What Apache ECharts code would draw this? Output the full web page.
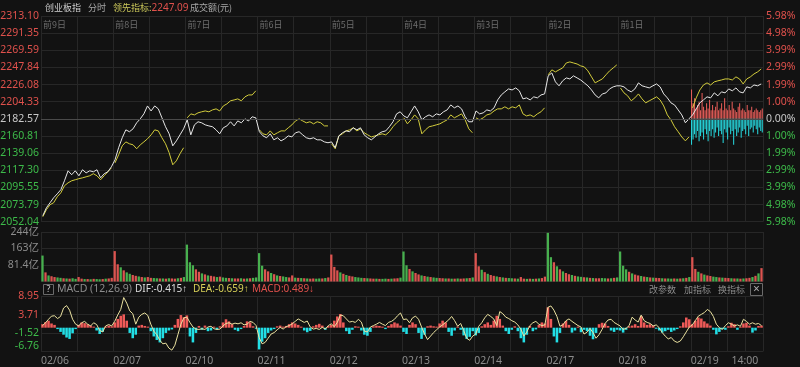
<!DOCTYPE html>
<html><head><meta charset="utf-8">
<script src="https://cdn.jsdelivr.net/npm/echarts@6/dist/echarts.min.js"></script>
<style>html,body{margin:0;padding:0;background:#121212;}#c{width:800px;height:367px;}</style>
</head><body><div id="c"></div>
<script>
// ---------- data ----------
const dayLabels = ['前9日','前8日','前7日','前6日','前5日','前4日','前3日','前2日','前1日'];
const dateLabels = ['02/06','02/07','02/10','02/11','02/12','02/13','02/14','02/17','02/18','02/19'];
const timeLabel = '14:00';
const priceTicks = ['2052.04','2073.79','2095.55','2117.30','2139.06','2160.81','2182.57','2204.33','2226.08','2247.84','2269.59','2291.35','2313.10'];
const pctTicks = ['5.98%','4.98%','3.99%','2.99%','1.99%','1.00%','0.00%','1.00%','1.99%','2.99%','3.99%','4.98%','5.98%'];
const volTicks = ['','81.4亿','163亿','244亿'];
const macdTicks = ['-6.76','-1.52','3.71','8.95'];
const pctRange = 5.98, volMax = 244.2, macdMin = -6.76, macdMax = 8.95;

// 创业板指 change % (20 points per day)
const indexPct = [
 -5.63,-5.17,-4.88,-4.59,-4.36,-4.12,-3.60,-3.02,-3.25,-3.02,-3.31,-2.96,-3.14,-3.02,-3.08,-2.96,-3.43,-3.19,-3.08,-2.79,
 -2.38,-1.68,-1.10,-0.64,-0.75,-0.58,-0.23,0.00,0.29,0.75,0.46,0.75,0.58,0.06,-0.46,-0.87,-1.57,-1.28,-0.93,-0.58,
 -0.06,-0.93,-0.35,-0.17,-0.23,-0.35,-0.41,-0.46,-0.64,-0.87,-0.52,-0.41,-0.17,-0.41,-0.12,-0.23,0.00,-0.12,0.12,0.06,
 -0.75,-0.99,-1.10,-0.87,-1.22,-1.10,-1.28,-1.16,-0.99,-1.05,-0.81,-0.75,-0.93,-1.10,-1.16,-1.10,-1.22,-1.22,-1.34,-1.39,
 -1.34,-1.68,-0.99,-0.81,-0.70,-0.75,-0.52,-0.64,-0.52,-0.93,-1.10,-1.22,-1.05,-0.87,-0.75,-0.70,-0.46,-0.17,0.29,0.41,
 0.17,0.06,0.41,0.75,0.41,-0.06,0.12,0.23,0.12,0.29,0.23,0.41,0.52,0.81,0.64,0.75,0.58,0.12,-0.17,-0.17,
 0.46,0.29,0.35,0.52,0.46,0.64,1.10,1.39,1.57,1.74,1.68,1.80,1.63,1.16,1.22,1.10,1.28,1.22,1.39,1.45,
 2.50,2.67,2.15,1.92,2.21,2.38,2.32,2.50,2.38,2.26,2.09,1.92,1.68,1.39,1.22,1.45,1.51,1.74,1.86,1.92,
 1.92,1.86,1.68,1.57,1.74,2.09,1.92,1.86,1.80,1.92,2.03,1.86,1.45,1.22,0.93,0.81,0.52,0.23,-0.23,0.00,
 0.23,0.58,0.93,1.10,1.28,1.22,1.51,1.34,1.57,1.51,1.74,1.63,1.80,1.57,1.51,1.86,1.80,1.97,1.92,2.03
];
// 领先指标 change % (20 points per day)
const leadPct = [
 -5.69,-5.28,-4.99,-4.88,-4.53,-4.30,-3.89,-3.72,-3.60,-3.54,-3.48,-3.43,-3.37,-3.31,-3.19,-3.31,-3.54,-3.31,-3.08,-2.85,
 -2.56,-2.09,-1.57,-1.34,-1.45,-1.51,-1.74,-1.51,-1.34,-1.16,-0.93,-0.64,-0.70,-1.10,-1.45,-1.97,-2.67,-2.44,-2.03,-1.68,
 0.06,0.29,0.23,0.35,0.41,0.46,0.41,0.52,0.58,0.46,0.75,0.87,1.05,1.10,1.16,1.05,1.28,1.39,1.39,1.63,
 -0.64,-0.87,-0.93,-0.70,-0.93,-0.81,-0.70,-0.70,-0.52,-0.35,-0.12,0.00,-0.12,-0.23,-0.17,-0.29,-0.17,-0.23,-0.41,-0.41,
 -1.45,-1.74,-0.99,-0.87,-0.70,-0.64,-0.52,-0.70,-0.58,-0.81,-0.93,-1.05,-0.99,-0.93,-0.87,-0.93,-0.75,-0.46,-0.23,-0.06,
 0.06,-0.29,-0.06,0.23,0.00,-0.87,-0.64,-0.46,-0.41,-0.35,-0.29,-0.17,-0.06,0.23,0.06,0.17,0.29,-0.06,-0.58,-0.81,
 0.06,-0.06,0.06,0.23,0.29,0.46,0.58,0.58,0.70,0.58,0.70,0.64,0.81,0.29,0.17,0.23,0.12,0.29,0.41,0.64,
 2.56,2.85,2.73,2.85,2.96,3.25,3.31,3.25,3.19,3.08,3.02,2.79,2.44,2.09,2.21,2.32,2.56,2.79,2.96,3.14,
 1.80,1.51,1.34,1.05,1.22,1.45,1.16,0.93,1.05,1.16,1.28,1.10,0.75,0.23,-0.06,-0.46,-0.75,-1.05,-1.28,-1.05,
 0.64,1.22,1.68,1.97,2.09,1.97,2.15,2.21,2.26,2.32,2.32,2.26,2.44,2.32,2.03,2.32,2.44,2.61,2.73,2.90
];
// today's indicator bars (48 per day)
const todayUp = [1.7,0.9,1.2,0.6,0.8,1.0,0.5,1.5,0.7,0.5,0.9,0.6,1.1,0.5,0.8,0.5,0.7,1.0,0.5,0.6,0.9,0.5,1.2,0.6,0.5,0.8,0.5,1.0,0.6,0.5,0.4,0.7,0.9,0.5,0.6,0.5,0.4,0.8,0.5,0.5,0.7,0.4,0.5,0.6,0.5,0.4,0.5,0.6];
const todayDown = [-1.5,-1.2,-0.9,-1.1,-0.7,-1.3,-1.0,-0.8,-1.2,-0.6,-0.9,-1.3,-0.7,-1.0,-0.6,-1.1,-0.8,-0.5,-1.0,-0.7,-0.9,-1.4,-0.6,-0.8,-1.2,-0.5,-0.9,-0.7,-1.5,-0.6,-1.0,-0.8,-0.5,-1.1,-0.7,-0.6,-0.9,-0.4,-1.0,-0.6,-0.5,-0.8,-0.4,-0.6,-0.9,-0.5,-0.7,-0.8];
// turnover (亿), 24 per day
const volume = [
 128,45,30,26,22,20,18,16,15,14,16,13,22,14,12,12,11,13,12,11,12,14,15,18,
 150,85,70,55,45,38,32,28,25,22,20,22,18,17,16,15,15,14,16,15,14,16,18,22,
 182,95,80,60,48,40,35,30,28,25,22,24,20,18,17,16,15,15,16,14,15,16,18,20,
 140,78,60,50,42,36,30,27,25,22,20,30,19,18,17,16,15,14,15,14,15,15,17,20,
 133,72,55,45,38,32,28,25,22,20,18,17,16,15,14,14,13,13,14,13,14,15,16,19,
 148,80,62,50,42,35,30,27,24,22,20,18,17,16,15,15,14,14,15,14,15,16,17,20,
 140,75,58,46,38,32,28,25,22,20,18,17,16,15,14,22,14,13,14,13,14,15,17,24,
 240,120,95,75,60,50,42,36,32,28,25,23,21,20,18,17,16,16,17,16,15,16,18,20,
 148,78,60,48,40,34,30,27,24,22,20,19,18,17,16,15,15,14,15,14,15,16,18,22,
 120,62,48,40,34,30,27,24,22,20,19,18,17,16,15,15,14,15,16,18,22,28,40,66
];
const volDir = [
 'grgrrggrgrggrrgrgrggrgrr','rrgrggrrgrgrrggrgrgrrgrg','gggrrgrgrrgrggrgrrgrgrgg','ggrrgrgrggrrgrgrgrrggrgr','rrrgrgrrgggrgrrgrggrgrrg',
 'ggrgrrgrgrggrrgrgrgrrgrg','rrgrgrrgrgrggrgrrgrgrgrr','ggrgrgrrgrggrgrgrrggrgrg','gggrgrrgrgrgrrgrggrgrgrg','rrgrgrrggrgrrgrgrgrrgrgr'
];
// MACD line and histogram, 24 per day
const macdLine = [
 0.6,1.4,2.4,3.3,3.4,2.6,3.2,5.6,6.3,5.0,2.4,1.0,0.5,1.4,1.8,1.0,0.5,1.4,0.9,-0.8,-1.2,0.5,0.9,0.5,
 1.8,3.6,5.2,8.6,7.0,4.8,4.0,1.0,3.0,3.8,4.2,3.5,1.0,-1.0,-2.0,-3.6,-4.6,-4.4,-5.8,-6.4,-5.0,-2.0,1.0,2.8,
 3.0,1.5,0.2,-0.4,-0.5,-0.3,-0.5,0.2,0.4,-0.3,-0.5,-0.4,0.5,1.2,1.4,1.0,1.3,1.1,1.4,0.8,1.0,1.8,1.5,0.6,
 -2.8,-4.6,-4.2,-3.0,-1.8,-1.4,-0.6,0.1,-0.4,0.3,0.6,1.1,1.8,2.5,2.0,1.5,1.9,0.2,-0.4,-0.2,-0.5,0.1,-0.4,0.6,
 1.1,0.3,1.5,3.6,3.4,2.5,1.6,1.8,1.5,2.4,1.6,-1.0,-1.2,0.2,0.6,1.0,1.5,1.0,0.6,1.5,1.8,2.4,3.4,4.2,
 2.3,2.5,1.4,2.8,3.3,2.4,0.2,-1.8,-3.4,-2.4,-1.4,-0.6,0.2,0.8,1.5,2.2,3.2,2.0,0.4,1.2,-0.8,-3.0,-3.6,-2.4,
 -1.8,0.4,1.4,2.8,3.8,3.2,2.5,0.6,4.6,4.0,3.0,2.6,2.0,1.6,0.8,-0.4,-2.4,-1.2,0.6,1.4,1.8,1.0,0.6,0.8,
 5.8,6.2,5.0,3.2,0.4,0.8,2.0,2.5,1.8,1.2,0.6,0.2,-1.8,-1.3,-0.2,-1.4,-3.0,-2.0,-0.5,1.2,2.2,2.4,1.5,1.0,
 0.5,-0.5,-0.2,0.6,3.0,2.2,1.6,3.6,2.0,1.5,1.2,0.5,0.8,0.0,-1.4,-2.4,-3.2,-2.8,-3.8,-4.2,-3.8,-2.6,-1.2,0.2,
 0.8,2.0,3.3,3.8,4.3,5.2,4.6,3.2,1.0,0.0,-0.5,0.6,1.4,1.0,0.5,0.8,0.4,2.4,1.8,1.0,1.4,1.0,1.2,0.6
];
const macdHist = [
 1.0,1.6,2.0,1.2,0.8,-0.4,-1.2,-2.0,-2.8,-3.2,-1.6,-0.4,0.8,1.5,1.3,1.0,0.6,0.3,-0.8,-1.8,-1.2,0.3,0.6,0.4,
 1.5,2.5,3.4,3.8,2.0,-1.5,-3.0,-2.0,0.6,0.8,0.5,0.3,-1.0,-2.5,-3.5,-4.2,-3.0,-1.5,-0.8,-0.5,0.8,2.5,3.6,3.0,
 3.5,-2.5,-4.2,-1.5,0.5,-0.6,0.6,-1.0,-0.8,0.3,-0.5,0.4,1.5,2.4,1.8,1.0,-0.6,-1.0,-0.4,0.5,1.8,1.5,0.4,-0.3,
 -6.2,-4.0,-3.0,-1.5,-0.8,-0.4,0.4,0.6,0.3,0.5,1.0,1.5,1.2,0.8,0.3,-0.8,-1.3,-0.9,0.4,0.8,1.1,0.6,-0.6,0.5,
 0.8,2.0,3.2,3.9,1.5,-1.0,-1.8,-0.6,0.4,0.3,-0.8,-2.0,-2.3,-1.2,0.4,0.6,0.5,0.3,-0.4,0.5,1.0,1.5,1.2,0.6,
 -1.2,-1.8,0.8,1.5,1.0,-1.5,-3.2,-2.0,0.4,0.6,0.4,0.3,1.2,2.0,1.5,-1.2,-2.3,-0.8,0.3,-0.6,-2.2,-3.2,-2.6,-1.0,
 -2.2,-1.5,0.4,1.0,1.5,0.8,2.0,3.4,2.5,0.6,-1.0,-1.8,-0.6,0.4,-1.0,-3.0,-4.2,-2.0,0.5,-1.0,-0.5,0.8,1.5,1.2,
 5.8,2.5,-2.5,-4.2,-1.5,1.2,1.9,0.8,-1.4,-0.8,0.3,-1.3,-0.6,-1.0,-2.3,-3.3,-1.5,1.0,1.4,1.2,0.5,-0.8,-1.2,-0.6,
 -0.8,-1.4,-0.6,0.4,0.6,1.0,0.5,3.3,1.5,0.8,1.0,0.6,-0.3,-0.8,-1.4,-1.0,-0.6,-1.2,-0.8,-0.4,0.4,1.5,2.9,2.4,
 1.0,2.0,2.9,2.6,1.8,1.2,0.6,-0.6,-1.9,-1.2,-0.4,-0.6,0.4,1.4,1.0,-0.6,0.3,1.2,1.4,0.6,-1.4,-0.8,0.5,0.6
];

// ---------- style ----------
const FONT = "'Noto Sans CJK SC','Noto Sans',sans-serif";
const LATIN = "'Noto Sans','Noto Sans CJK SC',sans-serif";
const ARROW = "'Liberation Sans','DejaVu Sans',sans-serif";
const RED = '#e0514c', GREEN = '#3dbb4a', GREY = '#8c8c8c';
const GRID = '#272727';
const WHITE_LINE = '#e6e6e6', YEL_LINE = '#d2cc3c';
const DAYS = 10, PPD = 20, VPD = 24, TPD = 48;

const idx = n => Array.from({length:n}, (_, i) => String(i));
const quarterCats = idx(DAYS*4+1);
const quarterSplit = i => (i % 2 === 0) || i >= (DAYS-1)*4;

function hiddenX(grid, n){ return {type:'category', gridIndex:grid, data:idx(n), show:false, boundaryGap:true, position:'bottom', axisLine:{onZero:false}}; }
function lineX(grid){ return {type:'category', gridIndex:grid, data:quarterCats, boundaryGap:false, position:'bottom',
  axisLine:{show:false,onZero:false}, axisTick:{show:false}, axisLabel:{show:false},
  splitLine:{show:true, interval:(i)=>quarterSplit(i), lineStyle:{color:GRID,width:1}}}; }
function hiddenY(grid, min, max){ return {type:'value', gridIndex:grid, min, max, show:false, splitLine:{show:false}}; }
function labelY(grid, data, pos, colorFn){ return {type:'category', gridIndex:grid, data, position:pos, boundaryGap:false,
  axisLine:{show:false,onZero:false}, axisTick:{show:false},
  axisLabel:{interval:0, margin: pos==='left'?2:3, fontSize:10.5, fontFamily:LATIN, color:colorFn, align: pos==='left'?'right':'left'},
  splitLine:{show:true, interval:0, lineStyle:{color:GRID,width:1}}}; }

const gridBase = {left:41, right:37, outerBoundsMode:'none', containLabel:false, show:false};
const grid = [
  Object.assign({}, gridBase, {top:16, height:205.7}),
  Object.assign({}, gridBase, {top:232, height:49.5}),
  Object.assign({}, gridBase, {top:296.3, height:55.1})
];

const xAxis = [
  hiddenX(0, DAYS*PPD),            //0
  lineX(0),                        //1
  {type:'category', gridIndex:0, position:'top', data: dayLabels.concat(['','']), boundaryGap:false,
    axisLine:{show:false,onZero:false}, axisTick:{show:false}, splitLine:{show:false},
    axisLabel:{inside:true, interval:0, margin:4, align:'left', padding:[0,0,0,2], fontSize:9, fontFamily:FONT, color:'#6c6c6c'}}, //2
  hiddenX(0, DAYS*TPD),            //3
  hiddenX(1, DAYS*VPD),            //4
  lineX(1),                        //5
  hiddenX(2, DAYS*VPD),            //6
  lineX(2),                        //7
  {type:'category', gridIndex:2, position:'bottom', data: dateLabels.concat(['']), boundaryGap:false,
    axisLine:{show:false,onZero:false}, axisTick:{show:false}, splitLine:{show:false},
    axisLabel:{interval:0, margin:4, align:'left', fontSize:10.5, fontFamily:LATIN, color:GREY}}, //8
  {type:'category', gridIndex:2, position:'bottom', data: quarterCats.map((c,i)=> i===DAYS*4-1 ? timeLabel : ''), boundaryGap:false,
    axisLine:{show:false,onZero:false}, axisTick:{show:false}, splitLine:{show:false},
    axisLabel:{interval:0, margin:4, align:'center', fontSize:10.5, fontFamily:LATIN, color:GREY}} //9
];

const midIdx = (priceTicks.length-1)/2;
const signColor = (v, i) => i < midIdx ? GREEN : (i === midIdx ? '#c8c8c8' : RED);
const macdAxis = labelY(2, macdTicks.map((t,i)=> i===0 ? {value:t, textStyle:{verticalAlign:'bottom'}} : t), 'left',
  (v) => parseFloat(v) < 0 ? GREEN : RED);
const yAxis = [
  hiddenY(0, -pctRange, pctRange),                 //0
  labelY(0, priceTicks, 'left', signColor),        //1
  labelY(0, pctTicks, 'right', signColor),         //2
  hiddenY(1, 0, volMax),                           //3
  labelY(1, volTicks, 'left', () => GREY),         //4
  hiddenY(2, macdMin, macdMax),                    //5
  macdAxis                                         //6
];

const series = [];
// today's indicator bars
const upData = new Array(DAYS*TPD).fill(null), dnData = new Array(DAYS*TPD).fill(null);
todayUp.forEach((v,i)=> upData[(DAYS-1)*TPD+i] = v);
todayDown.forEach((v,i)=> dnData[(DAYS-1)*TPD+i] = v);
series.push({type:'bar', xAxisIndex:3, yAxisIndex:0, data:upData, barWidth:1, itemStyle:{color:'#ee5f5b'}, silent:true, z:1});
series.push({type:'bar', xAxisIndex:3, yAxisIndex:0, data:dnData, barWidth:1, barGap:'-100%', itemStyle:{color:'#27dde3'}, silent:true, z:1});
// leading indicator, one segment per day
for (let d=0; d<DAYS; d++){
  const arr = new Array(DAYS*PPD).fill(null);
  for (let k=0;k<PPD;k++) arr[d*PPD+k] = leadPct[d*PPD+k];
  series.push({type:'line', xAxisIndex:0, yAxisIndex:0, data:arr, showSymbol:false, connectNulls:false,
    lineStyle:{color:YEL_LINE,width:1}, silent:true, z:3});
}
// index line
series.push({type:'line', xAxisIndex:0, yAxisIndex:0, data:indexPct, showSymbol:false,
  lineStyle:{color:WHITE_LINE,width:1}, silent:true, z:4,
  markLine:{silent:true, symbol:['none','none'], label:{show:false}, lineStyle:{color:'#4a4a4a', width:1, type:'solid'}, data:[{yAxis:0}]}});
// volume
series.push({type:'bar', xAxisIndex:4, yAxisIndex:3, barCategoryGap:'25%', silent:true,
  data: volume.map((v,i)=>{ const d=Math.floor(i/VPD), k=i%VPD; const up=(volDir[d][k]||'r')==='r';
    return {value:v, itemStyle:{color: up ? '#dc5450' : '#47b04e'}}; })});
// MACD histogram and line
series.push({type:'bar', xAxisIndex:6, yAxisIndex:5, barCategoryGap:'15%', silent:true,
  data: macdHist.map(v=>({value:v, itemStyle:{color: v>=0 ? '#ef5a58' : '#22dfe6'}}))});
series.push({type:'line', xAxisIndex:6, yAxisIndex:5, data:macdLine, showSymbol:false, silent:true, z:4,
  lineStyle:{color:'#ebe2a0', width:1}});

function txt(x, y, s, color, size, align, family){
  const a = align || 'left';
  return {type:'text', x, y, silent:true, z:10,
    style:{text:s, fill:color, font: size+'px '+(family||FONT), align:a, verticalAlign:'middle', textAlign:a, textVerticalAlign:'middle'}};
}
function richTxt(x, y, s, rich){
  return {type:'text', x, y, silent:true, z:10,
    style:{text:s, rich, align:'left', verticalAlign:'middle', textAlign:'left', textVerticalAlign:'middle', font:'10px '+LATIN}};
}
const graphic = [
  txt(45, 8, '创业板指', '#cfcfcf', 9),
  txt(88, 8, '分时', '#a8a8a8', 9),
  richTxt(113, 8, '{a|领先指标:}{b|2247.09}', {a:{fill:'#cbc75a', font:'9px '+FONT}, b:{fill:RED, font:'10px '+LATIN}}),
  txt(190, 8, '成交额(元)', '#a8a8a8', 9),
  {type:'rect', silent:true, z:10, shape:{x:43.5,y:284.5,width:10,height:10}, style:{fill:'none', stroke:'#6a6a6a', lineWidth:1}},
  txt(48.5, 289.8, '?', '#c8c8c8', 9, 'center', LATIN),
  txt(57, 289.5, 'MACD (12,26,9)', GREY, 10.5, 'left', LATIN),
  richTxt(135, 289.5, '{t|DIF:-0.415}{r|↑}', {t:{fill:'#dcdcdc', font:'10px '+LATIN}, r:{fill:'#dcdcdc', font:'10px '+ARROW}}),
  richTxt(193, 289.5, '{t|DEA:-0.659}{r|↑}', {t:{fill:'#d6cf58', font:'10px '+LATIN}, r:{fill:'#d6cf58', font:'10px '+ARROW}}),
  richTxt(252, 289.5, '{t|MACD:0.489}{r|↓}', {t:{fill:RED, font:'10px '+LATIN}, r:{fill:RED, font:'10px '+ARROW}}),
  txt(649, 289.5, '改参数', GREY, 9),
  txt(684, 289.5, '加指标', GREY, 9),
  txt(718, 289.5, '换指标', GREY, 9),
  {type:'rect', silent:true, z:10, shape:{x:750.5,y:283.5,width:12,height:12}, style:{fill:'none', stroke:'#6a6a6a', lineWidth:1}},
  txt(756.5, 289.5, '×', '#aaaaaa', 12, 'center', LATIN)
];

const chart = echarts.init(document.getElementById('c'), null, {renderer:'canvas'});
chart.setOption({
  backgroundColor:'#121212',
  animation:false,
  textStyle:{fontFamily:FONT},
  grid, xAxis, yAxis, series, graphic
});
</script></body></html>
